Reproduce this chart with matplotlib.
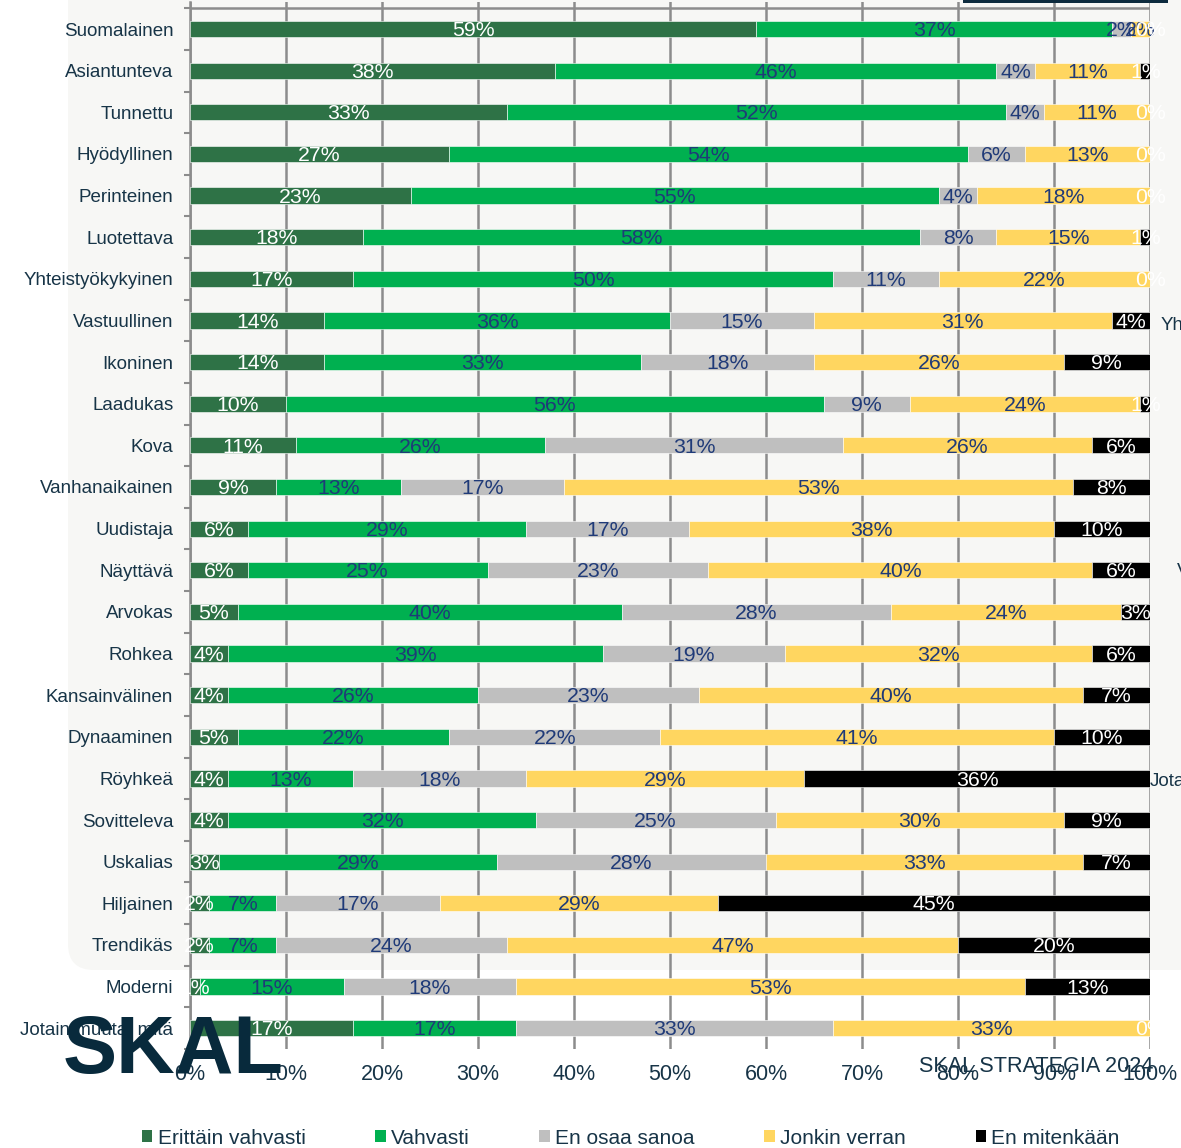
import matplotlib
matplotlib.use("Agg")
import matplotlib.pyplot as plt
import numpy as np
from matplotlib.patches import FancyBboxPatch, Rectangle, Patch

plt.rcParams["font.family"] = ["Liberation Sans", "DejaVu Sans"]

categories = [
    "Suomalainen", "Asiantunteva", "Tunnettu", "Hyödyllinen", "Perinteinen",
    "Luotettava", "Yhteistyökykyinen", "Vastuullinen", "Ikoninen", "Laadukas",
    "Kova", "Vanhanaikainen", "Uudistaja", "Näyttävä", "Arvokas", "Rohkea",
    "Kansainvälinen", "Dynaaminen", "Röyhkeä", "Sovitteleva", "Uskalias",
    "Hiljainen", "Trendikäs", "Moderni", "Jotain muuta, mitä",
]
series_names = ["Erittäin vahvasti", "Vahvasti", "En osaa sanoa", "Jonkin verran", "En mitenkään"]

erittain_vahvasti = [59, 38, 33, 27, 23, 18, 17, 14, 14, 10, 11, 9, 6, 6, 5, 4, 4, 5, 4, 4, 3, 2, 2, 1, 17]
vahvasti = [37, 46, 52, 54, 55, 58, 50, 36, 33, 56, 26, 13, 29, 25, 40, 39, 26, 22, 13, 32, 29, 7, 7, 15, 17]
en_osaa_sanoa = [2, 4, 4, 6, 4, 8, 11, 15, 18, 9, 31, 17, 17, 23, 28, 19, 23, 22, 18, 25, 28, 17, 24, 18, 33]
jonkin_verran = [2, 11, 11, 13, 18, 15, 22, 31, 26, 24, 26, 53, 38, 40, 24, 32, 40, 41, 29, 30, 33, 29, 47, 53, 33]
en_mitenkaan = [0, 1, 0, 0, 0, 1, 0, 4, 9, 1, 6, 8, 10, 6, 3, 6, 7, 10, 36, 9, 7, 45, 20, 13, 0]

series = [erittain_vahvasti, vahvasti, en_osaa_sanoa, jonkin_verran, en_mitenkaan]
colors = ["#2E7246", "#00B050", "#BFBFBF", "#FFD660", "#000000"]
label_colors = ["white", "#1F3A78", "#1F3A78", "#1F3A78", "white"]
navy = "#173447"
grid_col = "#8C8C8C"

W, H = 1181, 1148
fig = plt.figure(figsize=(W / 100, H / 100), dpi=100)
fig.patch.set_facecolor("white")

# light rounded panel behind the chart
bg = FancyBboxPatch((68 / W, 1 - 970 / H), 1.2, 1.2, transform=fig.transFigure,
                    boxstyle="round,pad=0,rounding_size=0.022", mutation_aspect=W / H,
                    fc="#F7F7F5", ec="none", zorder=-5)
fig.patches.append(bg)
fig.patches.append(Rectangle((963 / W, 1 - 3 / H), 205 / W, 3 / H, transform=fig.transFigure,
                             fc="#0D2B3E", ec="none", zorder=5))

ax = fig.add_axes([190 / W, 1 - 1049 / H, 960 / W, 1047 / H])
ax.set_facecolor("none")

y = np.arange(len(categories))
left = np.zeros(len(categories))
for vals, name, col, lcol in zip(series, series_names, colors, label_colors):
    vals = np.array(vals, dtype=float)
    ax.barh(y, vals, left=left, height=0.39, color=col, edgecolor="white",
            linewidth=0.4, label=name, zorder=3)
    for yi, l, v in zip(y, left, vals):
        ax.text(l + v / 2, yi + 0.04, f"{int(v)}%", ha="center", va="center",
                fontsize=15.3, color=lcol, zorder=4)
    left += vals

ax.set_xlim(0, 100)
ax.set_ylim(24.5, -0.65)
ax.set_xticks(np.arange(0, 101, 10))
ax.set_xticklabels([f"{t}%" for t in range(0, 101, 10)])
ax.set_yticks(y)
ax.set_yticklabels(categories)
ax.set_yticks(np.arange(-0.5, 25, 1), minor=True)
ax.tick_params(axis="y", which="major", length=0, pad=12, labelsize=13.5, labelcolor=navy)
ax.tick_params(axis="y", which="minor", length=4.3, width=1.5, color=grid_col)
ax.tick_params(axis="x", length=0, pad=11, labelsize=15.5, labelcolor=navy)
ax.grid(axis="x", color=grid_col, linewidth=1.8, zorder=1)
ax.set_axisbelow(True)
for s in ["top", "right", "bottom"]:
    ax.spines[s].set_visible(False)
ax.spines["left"].set_color(grid_col)
ax.spines["left"].set_linewidth(1.8)
ax.axhline(-0.5, color=grid_col, linewidth=1.8, zorder=1)

# fragments of text cut off at the right edge
fig.text(1161 / W, 1 - 325 / H, "Yh", fontsize=13.5, color=navy, va="center", ha="left")
fig.text(1177 / W, 1 - 571 / H, "V", fontsize=13.5, color=navy, va="center", ha="left")
fig.text(1150 / W, 1 - 781 / H, "Jota", fontsize=13.5, color=navy, va="center", ha="left", zorder=6)

fig.text(919 / W, 1 - 1066 / H, "SKAL STRATEGIA 2024", fontsize=15.6, color=navy,
         va="center", ha="left", zorder=6)
fig.text(63 / W, 1 - 1073 / H, "SKAL", fontsize=58.5, fontweight="bold", color="#082A3C",
         va="baseline", ha="left", zorder=10)

handles = [Patch(fc=c, ec="none") for c in colors]
fig.legend(handles, series_names, loc="center left", bbox_to_anchor=(142 / W, 1 - 1138 / H),
           ncol=5, frameon=False, fontsize=15, handlelength=0.5, handleheight=0.5,
           handletextpad=0.25, columnspacing=3.35, borderpad=0, borderaxespad=0,
           labelcolor=navy)

fig.savefig("out.png", dpi=100, facecolor=fig.get_facecolor())
